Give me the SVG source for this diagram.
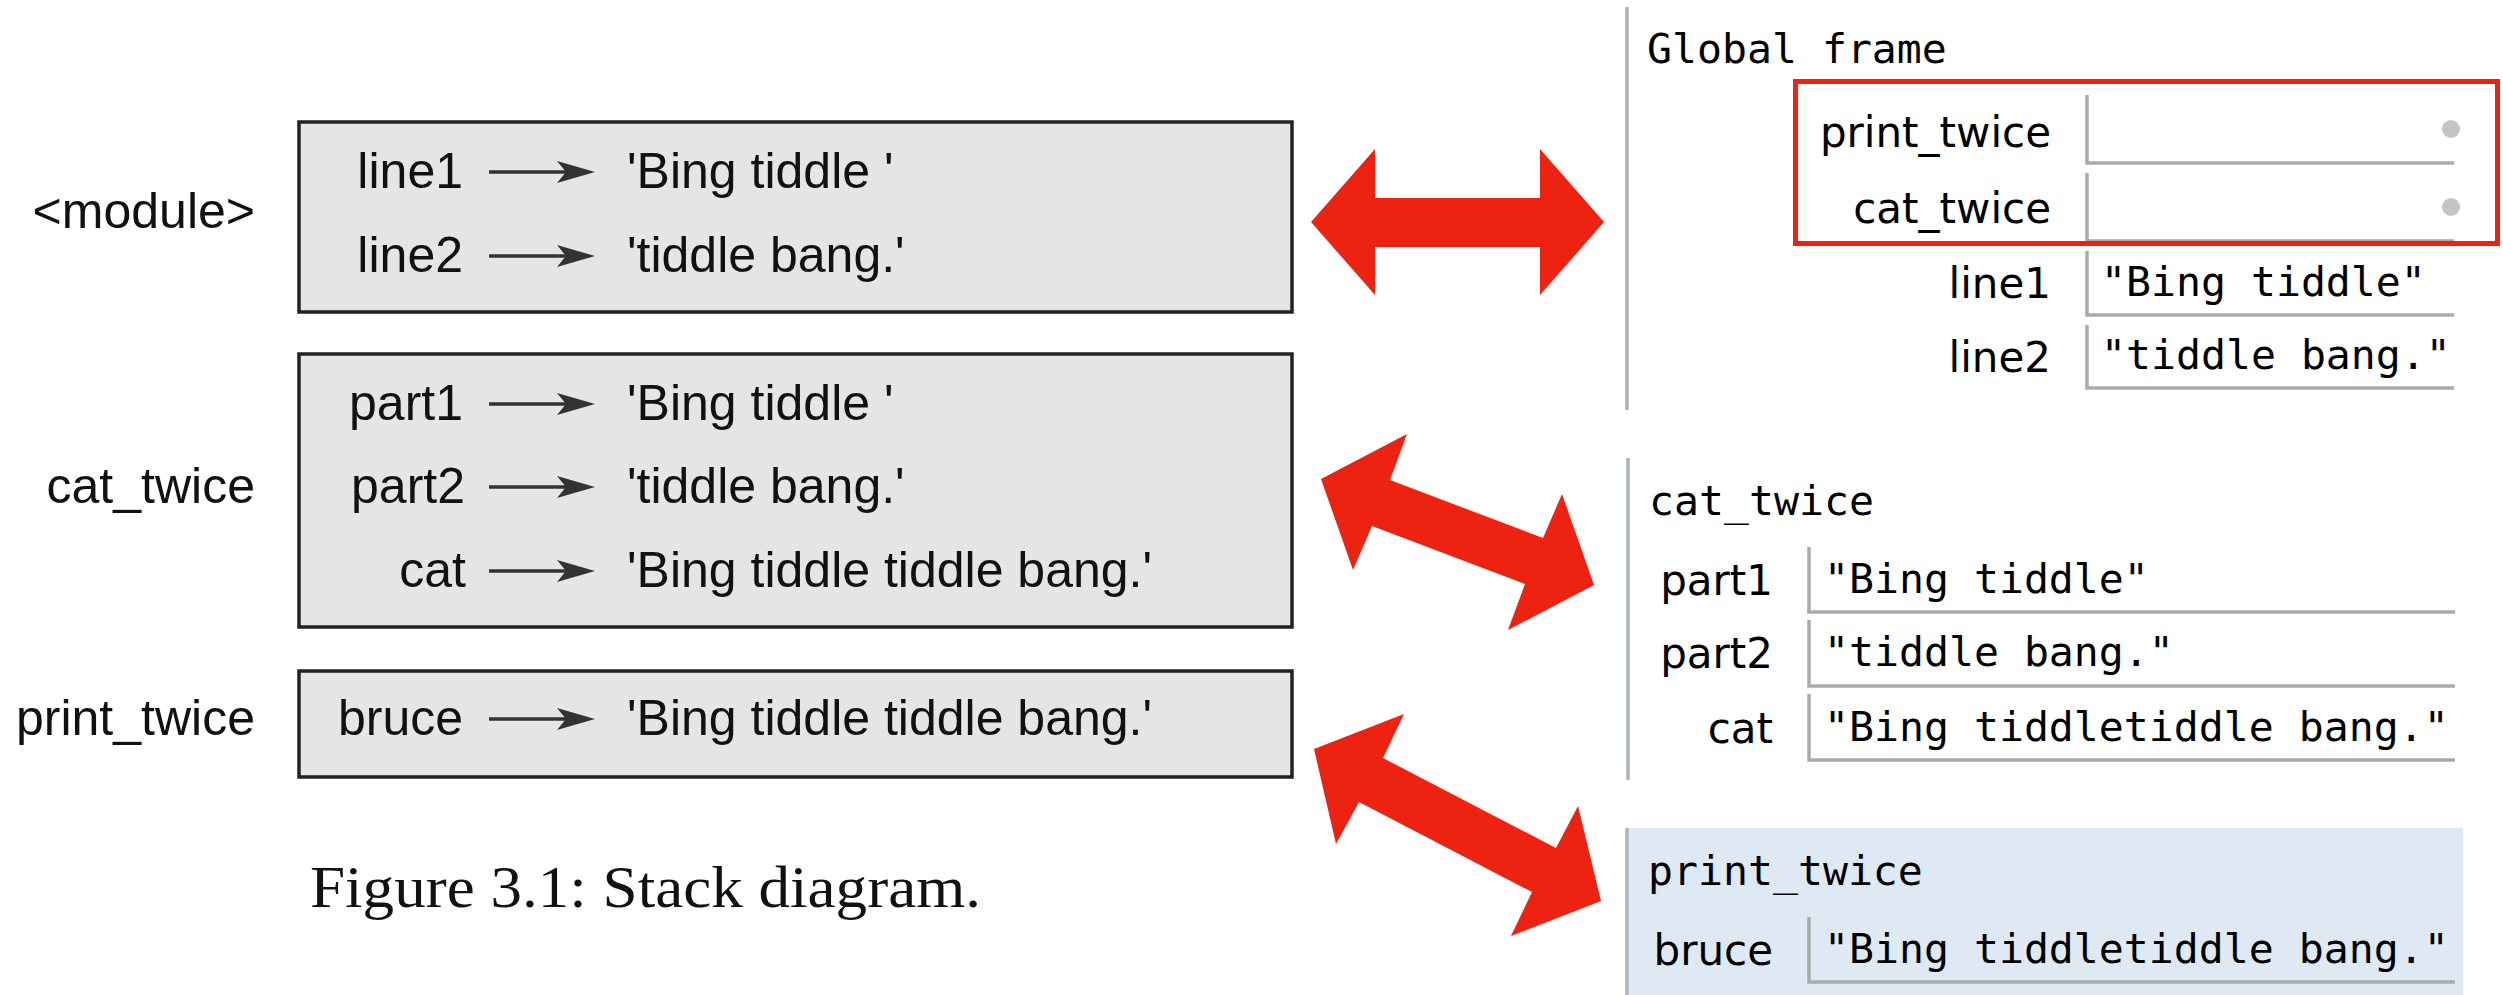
<svg xmlns="http://www.w3.org/2000/svg" width="2503" height="995" viewBox="0 0 2503 995">
<style>
.box{fill:#e5e5e5;stroke:#222;stroke-width:3.5}
.lt{font-family:"Liberation Sans",Arial,sans-serif;font-size:50px;fill:#111}
.ar{stroke:#333;stroke-width:3.5;fill:none}
.ah{fill:#333}
.red{fill:#ee2210}
.fl{stroke:#aab4ba;stroke-width:3.5}
.vb{fill:none;stroke:#aaaaaa;stroke-width:3.5}
.mono{font-family:"DejaVu Sans Mono",monospace;font-size:41.5px;fill:#000}
.lab{font-family:"DejaVu Sans",sans-serif;font-size:42px;fill:#000}
.dot{fill:#c4c4c4}
</style>
<defs>
<g id="arw"><line class="ar" x1="489" y1="0" x2="585" y2="0"/><path class="ah" d="M557,-11 L595,0 L557,11 L566,0 Z"/></g>
</defs>
<rect width="2503" height="995" fill="#fff"/>

<g id="left-module">
<text class="lt" x="255" y="228" text-anchor="end">&lt;module&gt;</text>
<rect class="box" x="299" y="122" width="993" height="190"/>
<text class="lt" x="463" y="188" text-anchor="end">line1</text>
<use href="#arw" y="172"/>
<text class="lt" x="627" y="188">'Bing tiddle '</text>
<text class="lt" x="463" y="272" text-anchor="end">line2</text>
<use href="#arw" y="256"/>
<text class="lt" x="627" y="272">'tiddle bang.'</text>
</g>

<g id="left-cat_twice">
<text class="lt" x="255" y="503" text-anchor="end">cat_twice</text>
<rect class="box" x="299" y="354" width="993" height="273"/>
<text class="lt" x="463" y="420" text-anchor="end">part1</text>
<use href="#arw" y="404"/>
<text class="lt" x="627" y="420">'Bing tiddle '</text>
<text class="lt" x="465" y="503" text-anchor="end">part2</text>
<use href="#arw" y="487"/>
<text class="lt" x="627" y="503">'tiddle bang.'</text>
<text class="lt" x="466" y="587" text-anchor="end">cat</text>
<use href="#arw" y="571"/>
<text class="lt" x="627" y="587">'Bing tiddle tiddle bang.'</text>
</g>

<g id="left-print_twice">
<text class="lt" x="255" y="735" text-anchor="end">print_twice</text>
<rect class="box" x="299" y="671" width="993" height="106"/>
<text class="lt" x="463" y="735" text-anchor="end">bruce</text>
<use href="#arw" y="719"/>
<text class="lt" x="627" y="735">'Bing tiddle tiddle bang.'</text>
</g>

<g id="caption">
<text x="310" y="907" font-family="'Liberation Serif','Times New Roman',serif" font-size="60" textLength="671" lengthAdjust="spacingAndGlyphs" fill="#111">Figure 3.1: Stack diagram.</text>
</g>

<g id="connectors">
<polygon class="red" points="1311,222 1375,149 1375,198 1540,198 1540,149 1604,222 1540,295 1540,247 1375,247 1375,295"/>
<polygon class="red" points="1321,479 1407,434 1390,480 1543,538 1562,494 1594,585 1508,630 1525,584 1372,526 1353,570"/>
<polygon class="red" points="1314,749 1404,714 1383,758 1556,848 1578,806 1601,901 1511,936 1532,892 1359,802 1336,844"/>
</g>

<g id="global-frame">
<line class="fl" x1="1627" y1="7" x2="1627" y2="410"/>
<text class="mono" x="1647" y="63">Global frame</text>
<path class="vb" d="M2087,95 V163 H2454"/>
<text class="lab" x="2051" y="147" text-anchor="end">print_twice</text>
<circle class="dot" cx="2451" cy="129" r="9"/>
<path class="vb" d="M2087,173 V241 H2454"/>
<text class="lab" x="2051" y="223" text-anchor="end">cat_twice</text>
<circle class="dot" cx="2451" cy="207" r="9"/>
<path class="vb" d="M2087,251 V315 H2454"/>
<text class="lab" x="2051" y="298" text-anchor="end">line1</text>
<text class="mono" x="2101" y="296">"Bing tiddle"</text>
<path class="vb" d="M2087,325 V388 H2454"/>
<text class="lab" x="2051" y="372" text-anchor="end">line2</text>
<text class="mono" x="2101" y="369">"tiddle bang."</text>
<rect x="1795.5" y="81.5" width="702" height="162" fill="none" stroke="#ee2210" stroke-width="5"/>
</g>

<g id="cat_twice-frame">
<line class="fl" x1="1628" y1="458" x2="1628" y2="780"/>
<text class="mono" x="1649" y="515">cat_twice</text>
<path class="vb" d="M1809,547 V612 H2455"/>
<text class="lab" x="1773" y="595" text-anchor="end">part1</text>
<text class="mono" x="1824" y="593">"Bing tiddle"</text>
<path class="vb" d="M1809,620 V686 H2455"/>
<text class="lab" x="1773" y="668" text-anchor="end">part2</text>
<text class="mono" x="1824" y="666">"tiddle bang."</text>
<path class="vb" d="M1809,694 V760 H2455"/>
<text class="lab" x="1773" y="743" text-anchor="end">cat</text>
<text class="mono" x="1824" y="741">"Bing tiddletiddle bang."</text>
</g>

<g id="print_twice-frame">
<rect x="1626" y="828" width="837" height="167" fill="#dfe9f4"/>
<line class="fl" x1="1627" y1="828" x2="1627" y2="995"/>
<text class="mono" x="1648" y="885">print_twice</text>
<path class="vb" d="M1809,917 V982 H2455"/>
<text class="lab" x="1773" y="965" text-anchor="end">bruce</text>
<text class="mono" x="1824" y="963">"Bing tiddletiddle bang."</text>
</g>
</svg>
